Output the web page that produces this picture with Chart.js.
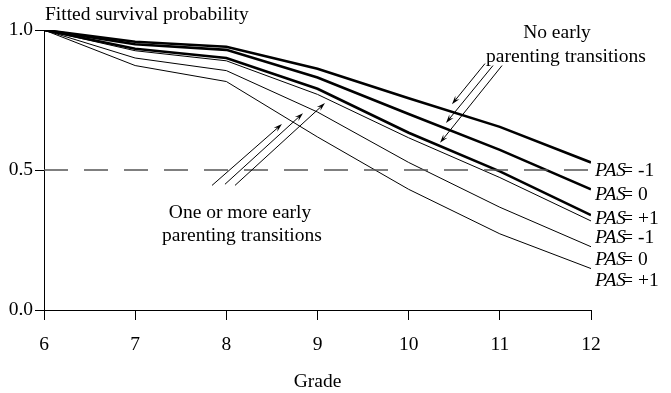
<!DOCTYPE html>
<html>
<head>
<meta charset="utf-8">
<script src="https://cdn.jsdelivr.net/npm/chart.js@4/dist/chart.umd.min.js"></script>
<style>
  html, body { margin: 0; padding: 0; background: #fff; }
  #wrap { width: 671px; height: 393px; position: relative; }
</style>
</head>
<body>
<div id="wrap"><canvas id="c" width="671" height="393"></canvas></div>
<script>
// Grades on the horizontal axis
const grades = [6, 7, 8, 9, 10, 11, 12];

// Fitted survival probabilities, no early parenting transitions
const noEarlyPasMinus1 = [1.0, 0.958, 0.940, 0.862, 0.756, 0.654, 0.527];
const noEarlyPas0      = [1.0, 0.949, 0.929, 0.830, 0.700, 0.572, 0.431];
const noEarlyPasPlus1  = [1.0, 0.933, 0.900, 0.790, 0.633, 0.495, 0.339];

// Fitted survival probabilities, one or more early parenting transitions
const earlyPasMinus1 = [1.0, 0.926, 0.890, 0.770, 0.615, 0.473, 0.318];
const earlyPas0      = [1.0, 0.900, 0.855, 0.707, 0.527, 0.367, 0.226];
const earlyPasPlus1  = [1.0, 0.873, 0.816, 0.618, 0.431, 0.272, 0.148];

// Value axis ticks and the median reference level
const yTickValues = [0, 0.5, 1];
const medianLevel = 0.5;

// Right-hand curve labels (top to bottom)
const pasValues = ['-1', '0', '+1', '-1', '0', '+1'];

const SERIF = "'Liberation Serif', 'Times New Roman', serif";
const FONT_SIZE = 19.5;

// Label anchors (in value units) for the curve labels at the right edge
const pasLabelLevels = [0.496, 0.410, 0.324, 0.256, 0.178, 0.103];

// Annotation arrows, in data units: [tailGrade, tailValue, headGrade, headValue]
const noEarlyArrows = [
  [10.837, 0.880, 10.475, 0.735],
  [10.925, 0.873, 10.409, 0.668],
  [11.024, 0.873, 10.344, 0.597]
];
const earlyArrows = [
  [7.843, 0.445, 8.610, 0.664],
  [7.985, 0.449, 8.841, 0.703],
  [8.095, 0.445, 9.082, 0.739]
];

function toPoints(values) {
  return grades.map((g, i) => ({ x: g, y: values[i] }));
}

function curve(values, width) {
  return {
    data: toPoints(values),
    borderColor: '#000',
    borderWidth: width,
    pointRadius: 0,
    tension: 0,
    fill: false
  };
}

const datasets = [
  {
    data: [{ x: grades[0], y: medianLevel }, { x: grades[grades.length - 1], y: medianLevel }],
    borderColor: '#555',
    borderWidth: 1.3,
    borderDash: [24, 16],
    pointRadius: 0,
    fill: false
  },
  curve(earlyPasPlus1, 1),
  curve(earlyPas0, 1),
  curve(earlyPasMinus1, 1),
  curve(noEarlyPasPlus1, 2.6),
  curve(noEarlyPas0, 2.6),
  curve(noEarlyPasMinus1, 2.6)
];

function drawArrow(ctx, x1, y1, x2, y2) {
  const a = Math.atan2(y2 - y1, x2 - x1);
  const len = 9, spread = 0.3;
  ctx.beginPath();
  ctx.moveTo(x1, y1);
  ctx.lineTo(x2 - Math.cos(a) * 4, y2 - Math.sin(a) * 4);
  ctx.stroke();
  ctx.beginPath();
  ctx.moveTo(x2, y2);
  ctx.lineTo(x2 - len * Math.cos(a - spread), y2 - len * Math.sin(a - spread));
  ctx.lineTo(x2 - len * 0.6 * Math.cos(a), y2 - len * 0.6 * Math.sin(a));
  ctx.lineTo(x2 - len * Math.cos(a + spread), y2 - len * Math.sin(a + spread));
  ctx.closePath();
  ctx.fill();
}

const annotations = {
  id: 'annotations',
  afterDraw(chart) {
    const { ctx, scales: { x, y } } = chart;
    ctx.save();
    ctx.fillStyle = '#000';
    ctx.strokeStyle = '#000';
    ctx.lineWidth = 1;
    ctx.textBaseline = 'middle';

    // axis titles
    ctx.font = FONT_SIZE + 'px ' + SERIF;
    ctx.textAlign = 'left';
    ctx.fillText('Fitted survival probability', x.left + 1, 15);
    ctx.textAlign = 'center';
    ctx.fillText('Grade', (x.left + x.right) / 2, 382);

    // group captions
    ctx.fillText('No early', 557, 33);
    ctx.fillText('parenting transitions', 566, 57);
    ctx.fillText('One or more early', 240, 213);
    ctx.fillText('parenting transitions', 242, 236);

    // arrows
    [...noEarlyArrows, ...earlyArrows].forEach(([g1, v1, g2, v2]) => {
      drawArrow(ctx, x.getPixelForValue(g1), y.getPixelForValue(v1),
                     x.getPixelForValue(g2), y.getPixelForValue(v2));
    });

    // curve labels
    ctx.textAlign = 'left';
    const lx = x.right + 4;
    pasValues.forEach((v, i) => {
      const ly = y.getPixelForValue(pasLabelLevels[i]);
      ctx.font = 'italic ' + FONT_SIZE + 'px ' + SERIF;
      ctx.fillText('PAS', lx, ly);
      const w = ctx.measureText('PAS').width;
      ctx.font = FONT_SIZE + 'px ' + SERIF;
      ctx.fillText('= ' + v, lx + w - 4, ly);
    });
    ctx.restore();
  }
};

Chart.defaults.font.family = SERIF;
Chart.defaults.color = '#000';

new Chart(document.getElementById('c'), {
  type: 'line',
  data: { datasets },
  options: {
    responsive: false,
    devicePixelRatio: 1,
    animation: false,
    layout: { padding: { top: 30, right: 80, left: 0, bottom: 0 } },
    plugins: { legend: { display: false }, tooltip: { enabled: false }, title: { display: false } },
    scales: {
      x: {
        type: 'linear',
        min: grades[0],
        max: grades[grades.length - 1],
        afterFit(scale) { scale.height = 83; },
        ticks: { stepSize: 1, font: { size: FONT_SIZE, family: SERIF }, color: '#000', padding: 13 },
        grid: { drawOnChartArea: false, tickLength: 10, color: '#000', lineWidth: 1 },
        border: { display: true, color: '#000', width: 1 }
      },
      y: {
        type: 'linear',
        min: 0,
        max: 1,
        afterFit(scale) { scale.width = 44; },
        afterBuildTicks(scale) { scale.ticks = yTickValues.map(v => ({ value: v })); },
        ticks: { font: { size: FONT_SIZE, family: SERIF }, color: '#000', padding: 2,
                 callback: v => Number(v).toFixed(1) },
        grid: { drawOnChartArea: false, tickLength: 9, color: '#000', lineWidth: 1 },
        border: { display: true, color: '#000', width: 1 }
      }
    }
  },
  plugins: [annotations]
});
</script>
</body>
</html>
